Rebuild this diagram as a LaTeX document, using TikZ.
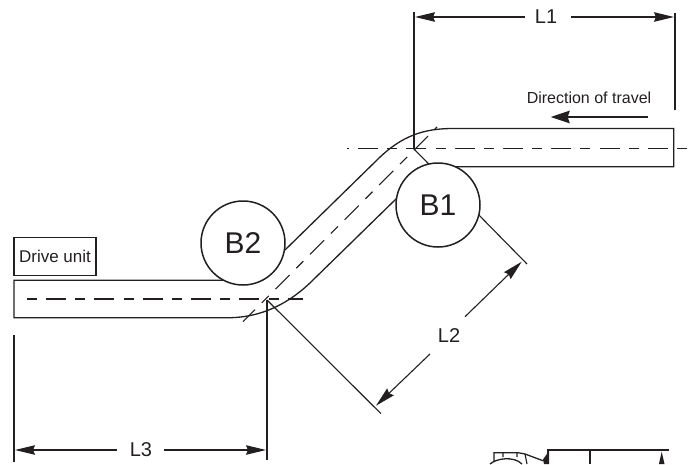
\documentclass[tikz,border=0pt]{standalone}
\usepackage{fontspec}
\setmainfont{Liberation Sans}
\usetikzlibrary{arrows.meta}
\definecolor{ink}{HTML}{231F20}
\tikzset{
  x=1pt,y=-1pt,
  part/.style={draw=ink,line width=1.3pt,line cap=butt},
  thinline/.style={draw=ink,line width=1.1pt},
  centre/.style={draw=ink,line width=1.1pt,dash pattern=on 10pt off 9.15pt on 20pt off 9.15pt},
  dim/.style={draw=ink,line width=1.1pt,-{Stealth[length=20pt,width=9.5pt,inset=2pt]}},
  roller/.style={circle,draw=ink,line width=1.5pt,fill=white,minimum size=84pt,inner sep=0pt,font=\fontsize{30}{30}\selectfont,text=ink},
  dimlabel/.style={font=\fontsize{20}{20}\selectfont,text=ink,inner sep=0pt},
  caption/.style={font=\fontsize{16}{18}\selectfont,text=ink,inner sep=0pt},
}
\begin{document}
\begin{tikzpicture}
\useasboundingbox (0,0) rectangle (693,464);
% reference points
\coordinate (a1) at (414,149);
\coordinate (a2) at (267,300);
\coordinate (rt) at (673.7,128.5);
\coordinate (rb) at (673.7,166.7);
\coordinate (lt) at (14,280.3);
\coordinate (lb) at (14,317.7);
% centre lines
\coordinate (c1r) at (687,148.5);
\coordinate (c1l) at (347,148.5);
\coordinate (c2l) at (27,299);
\coordinate (c2r) at (303,299);
\coordinate (c3a) at (243,321.7);
\coordinate (c3b) at (437,127);
\draw[centre] (c1r) -- (c1l);
\draw[centre] (c2l) -- (c2r);
\draw[centre,dash pattern=on 20pt off 9.5pt on 10pt off 9.5pt,dash phase=3pt] (c3a) -- (c3b);
% extension lines
\coordinate (e1a) at (414,12);
\coordinate (e1b) at (675,13);
\coordinate (e1c) at (675,110);
\coordinate (e3a) at (14,335);
\coordinate (e3b) at (14,461.5);
\coordinate (e3c) at (267,460);
\coordinate (e2a) at (527,264);
\coordinate (e2b) at (381,413.7);
\draw[thinline] (e1a) -- (a1);
\draw[thinline] (e1b) -- (e1c);
\draw[thinline] (e3a) -- (e3b);
\draw[thinline] (a2) -- (e3c);
\draw[thinline] (a1) -- (e2a);
\draw[thinline] (a2) -- (e2b);
% tube
\coordinate (u1) at (285,250);
\coordinate (u2) at (377,160);
\coordinate (u3) at (453,128.5);
\coordinate (d1) at (228,317.7);
\coordinate (d2) at (313,280);
\coordinate (d3) at (397,198);
\coordinate (bend) at (453,166.7);
\coordinate (top2) at (225,280.3);
\draw[part] (u1) -- (u2) .. controls (402,135) and (425,128.5) .. (u3) -- (rt) -- (rb) -- (bend);
\draw[part] (top2) -- (lt) -- (lb) -- (d1) .. controls (262,317.7) and (290,303) .. (d2) -- (d3);
% rollers
\node[roller] (B1) at (438,205) {B1};
\node[roller] (B2) at (243,243) {B2};
% drive unit
\node[draw=ink,line width=1.3pt,minimum width=82pt,minimum height=38pt,inner sep=0pt,font=\fontsize{17}{18}\selectfont,text=ink] (drive) at (55,256.7) {Drive unit};
% dimensions
\node[dimlabel] (L1) at (546,17) {L1};
\node[dimlabel] (L2) at (449,335.3) {L2};
\node[dimlabel] (L3) at (141,450) {L3};
\coordinate (L1a) at (525,17);\coordinate (L1l) at (415,17);
\coordinate (L1b) at (571,17);\coordinate (L1r) at (674,17);
\coordinate (L3a) at (117,450);\coordinate (L3l) at (15,450);
\coordinate (L3b) at (164,450);\coordinate (L3r) at (266,450);
\coordinate (L2a) at (465,316.7);\coordinate (L2t) at (521.7,261.7);
\coordinate (L2b) at (430,354);\coordinate (L2d) at (376,405.7);
\draw[dim] (L1a) -- (L1l);
\draw[dim] (L1b) -- (L1r);
\draw[dim] (L3a) -- (L3l);
\draw[dim] (L3b) -- (L3r);
\draw[dim] (L2a) -- (L2t);
\draw[dim] (L2b) -- (L2d);
% travel
\node[caption] (travel) at (589,97.5) {Direction of travel};
\coordinate (tr1) at (648,117);\coordinate (tr2) at (550.7,117);
\draw[draw=ink,line width=1.7pt,-{Stealth[length=19pt,width=12.5pt,inset=2pt]}] (tr1) -- (tr2);
% fragment at the foot
\coordinate (f1) at (548,464);\coordinate (f2) at (548,450);\coordinate (f3) at (669,450);
\coordinate (f4) at (590,450);\coordinate (f5) at (590,464);
\draw[part] (f1) -- (f2) -- (f3);
\draw[thinline] (f4) -- (f5);
\draw[part] (490,464) .. controls (497,458) and (514,456) .. (522,464);
\draw[part] (494,461) -- (494,452.7) -- (518,452.7) -- (525,454) -- (543,460.7);
\draw[thinline] (503,453) -- (503,457) (517,453) -- (517,457) (525,454) -- (527,464);
\fill[ink] (543,459.5) -- (549,451) -- (549,464) -- (544,464) -- cycle;
\fill[ink] (661.7,451.7) -- (664.5,464) -- (658.9,464) -- cycle;
\end{tikzpicture}
\end{document}
